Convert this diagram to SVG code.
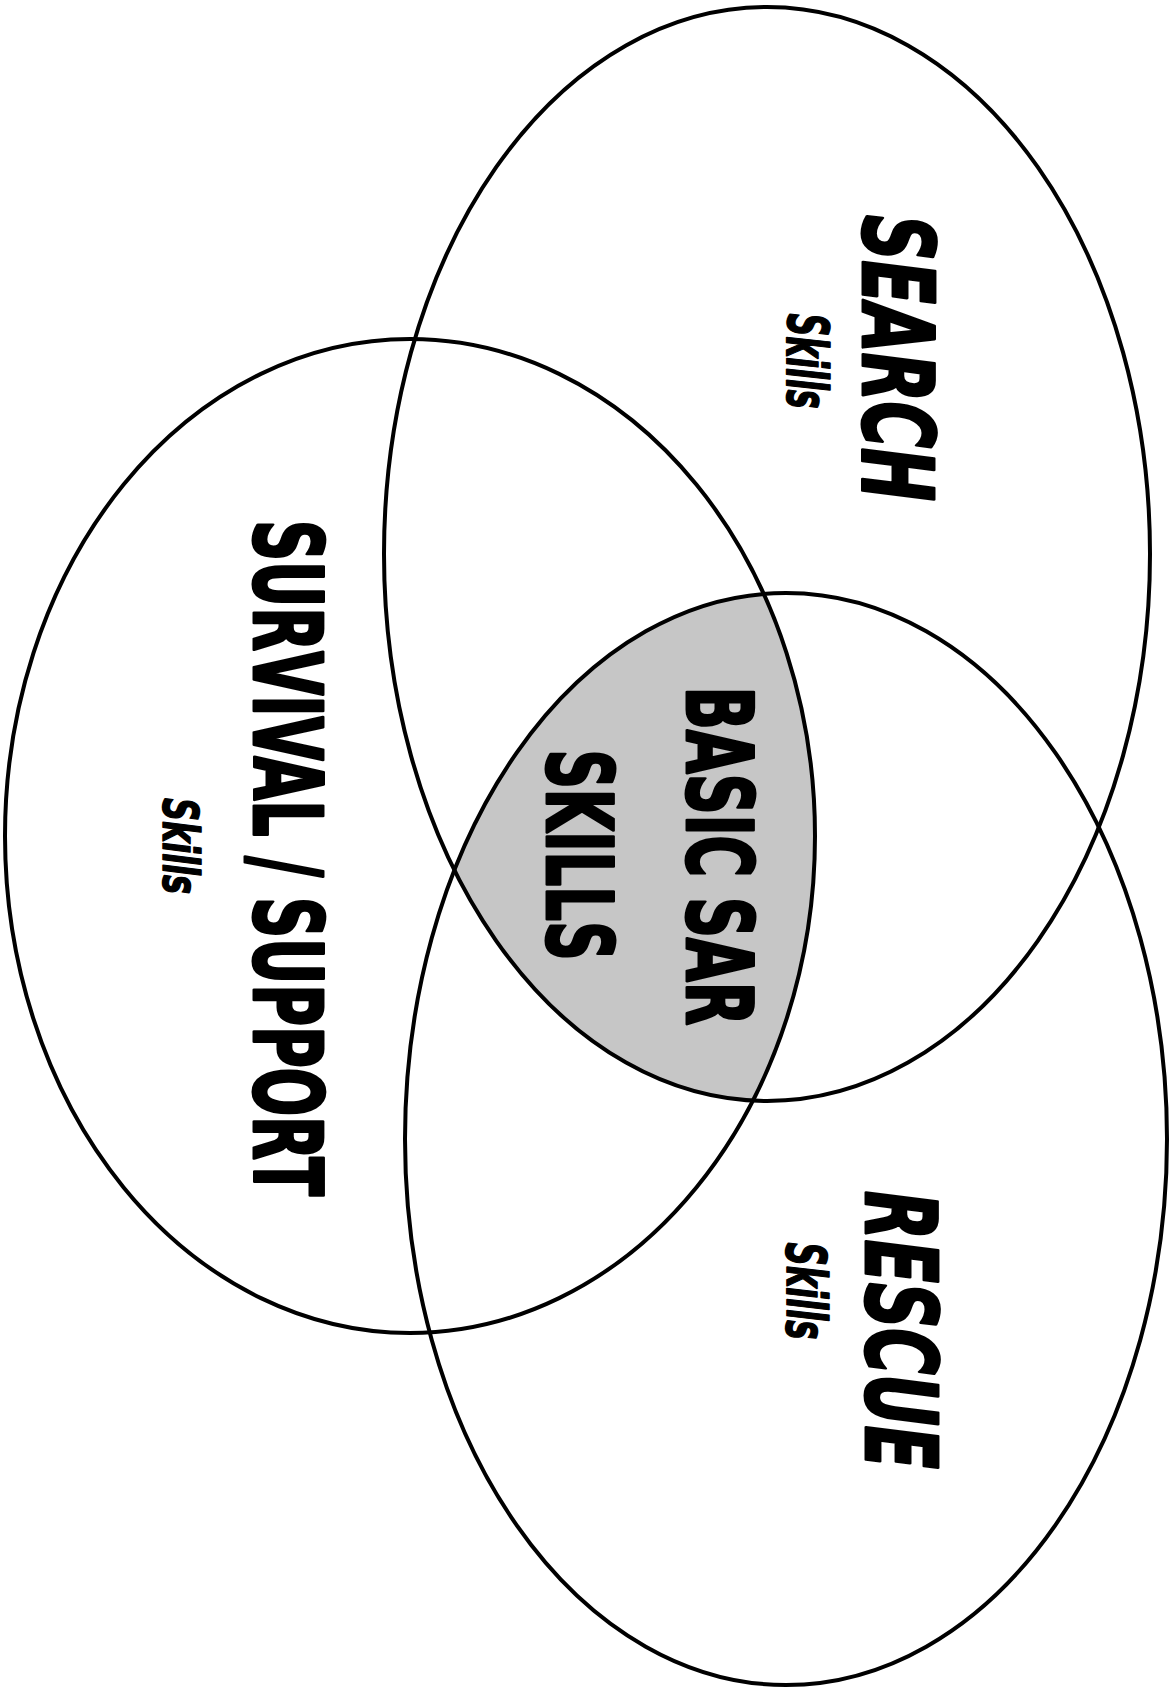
<svg xmlns="http://www.w3.org/2000/svg" width="1172" height="1688" viewBox="0 0 1172 1688">
<style>
.ring{fill:none;stroke:#000;stroke-width:4}
.big{font-family:"DejaVu Sans Condensed","DejaVu Sans",sans-serif;font-weight:bold;fill:#000;stroke:#000;stroke-width:3;stroke-linejoin:round}
.it{font-style:italic}
.sm{font-family:"DejaVu Sans Condensed","DejaVu Sans",sans-serif;font-weight:bold;font-style:italic;fill:#000;stroke:#000;stroke-width:1.5;stroke-linejoin:round}
</style>
<defs>
<clipPath id="cSearch"><ellipse cx="767" cy="554" rx="383" ry="547"/></clipPath>
<clipPath id="cSurv"><ellipse cx="410" cy="836" rx="405" ry="497"/></clipPath>
</defs>
<rect width="1172" height="1688" fill="#fff"/>
<g id="basic-fill" clip-path="url(#cSearch)">
<ellipse cx="786" cy="1139" rx="381" ry="546" fill="#c6c6c6" clip-path="url(#cSurv)"/>
</g>
<g id="connectors"></g>
<g id="search">
<ellipse class="ring" cx="767" cy="554" rx="383" ry="547"/>
<text class="big it" font-size="98" text-anchor="middle" textLength="286" lengthAdjust="spacingAndGlyphs" transform="translate(863,358) rotate(90)">SEARCH</text>
<text class="sm" font-size="57" text-anchor="middle" textLength="95" lengthAdjust="spacingAndGlyphs" transform="translate(787,361) rotate(90)">Skills</text>
</g>
<g id="survival">
<ellipse class="ring" cx="410" cy="836" rx="405" ry="497"/>
<text class="big" font-size="94" text-anchor="middle" textLength="676" lengthAdjust="spacingAndGlyphs" transform="translate(254,858) rotate(90)">SURVIVAL / SUPPORT</text>
<text class="sm" font-size="49" text-anchor="middle" textLength="96" lengthAdjust="spacingAndGlyphs" transform="translate(163,846) rotate(90)">Skills</text>
</g>
<g id="rescue">
<ellipse class="ring" cx="786" cy="1139" rx="381" ry="546"/>
<text class="big it" font-size="98" text-anchor="middle" textLength="278" lengthAdjust="spacingAndGlyphs" transform="translate(866,1330) rotate(90)">RESCUE</text>
<text class="sm" font-size="56" text-anchor="middle" textLength="97" lengthAdjust="spacingAndGlyphs" transform="translate(787,1291) rotate(90)">Skills</text>
</g>
<g id="basic">
<text class="big" font-size="90" text-anchor="middle" textLength="339" lengthAdjust="spacingAndGlyphs" transform="translate(687,856) rotate(90)">BASIC SAR</text>
<text class="big" font-size="90" text-anchor="middle" textLength="211" lengthAdjust="spacingAndGlyphs" transform="translate(547,855) rotate(90)">SKILLS</text>
</g>
</svg>
